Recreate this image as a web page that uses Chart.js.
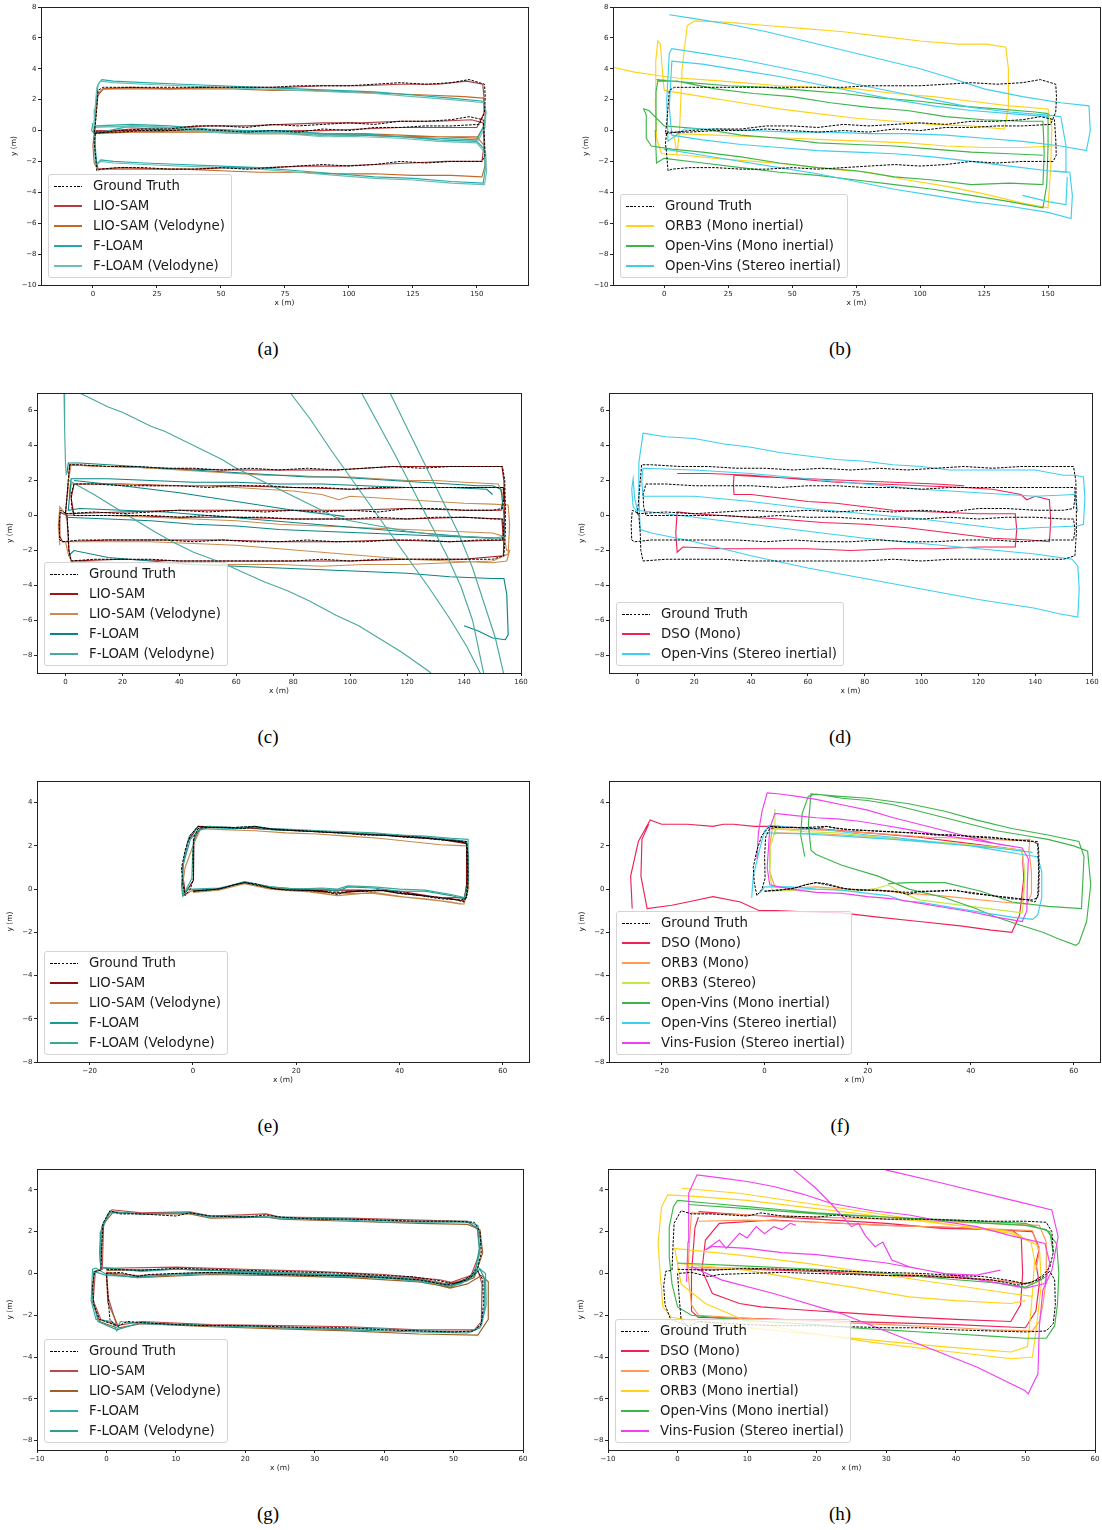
<!DOCTYPE html>
<html>
<head>
<meta charset="utf-8">
<script src="https://cdn.jsdelivr.net/npm/chart.js@4.4.1/dist/chart.umd.min.js"></script>
<style>
body{margin:0;background:#fff;width:1102px;height:1530px;position:relative;overflow:hidden;font-family:"DejaVu Sans",sans-serif}
canvas{position:absolute}
.lg{position:absolute;border:1px solid #d4d4d4;border-radius:3px;background:rgba(255,255,255,0.8);padding:1px 6px 1px 5px;font-size:13.3px;color:#1a1a1a;z-index:2}
.lg div{height:20px;line-height:20px;white-space:nowrap;display:flex;align-items:center}
.lg i{display:block;flex:0 0 28px;width:28px;height:2px;margin-right:11px}
.cap{position:absolute;font-family:"Liberation Serif",serif;font-size:19px;color:#000;transform:translate(-50%,-50%)}
</style>
</head>
<body>
<script>
// ---- ticks ----
const xTicksAB = [0, 25, 50, 75, 100, 125, 150];
const yTicksAB = [-10, -8, -6, -4, -2, 0, 2, 4, 6, 8];
const xTicksCD = [0, 20, 40, 60, 80, 100, 120, 140, 160];
const yTicksCD = [-8, -6, -4, -2, 0, 2, 4, 6];
const xTicksEF = [-20, 0, 20, 40, 60];
const yTicksEF = [-8, -6, -4, -2, 0, 2, 4];
const xTicksGH = [-10, 0, 10, 20, 30, 40, 50, 60];
const yTicksGH = [-8, -6, -4, -2, 0, 2, 4];

// ---- (a) / (b) ----
const gtAB = [[0.5,-0.2],[10,0.0],[20,0.1],[30,0.1],[40,0.3],[50,0.3],[60,0.2],[70,0.4],[80,0.3],[90,0.4],[100,0.5],[110,0.4],[120,0.6],[130,0.6],[140,0.7],[147,0.9],[152.5,0.7],[153,-0.5],[153.2,-1.6],[152,-2.0],[140,-2.0],[130,-2.1],[120,-2.0],[110,-2.2],[100,-2.3],[90,-2.2],[80,-2.3],[70,-2.4],[60,-2.5],[50,-2.4],[40,-2.5],[30,-2.5],[20,-2.4],[10,-2.4],[3,-2.5],[1.5,-2.6],[1,-1.6],[0.5,-0.8],[1,-0.1],[10,-0.1],[20,0.0],[30,0.0],[40,0.1],[50,0.0],[60,-0.1],[70,0.0],[80,-0.1],[90,0.1],[100,0.0],[110,0.2],[120,0.2],[130,0.3],[140,0.3],[151,0.4],[153,1.2],[153.3,2.2],[153,3.0],[147,3.3],[140,3.1],[130,3.0],[120,3.1],[110,3.0],[100,2.9],[90,2.9],[80,2.9],[70,2.8],[60,2.8],[50,2.8],[40,2.8],[30,2.8],[20,2.8],[10,2.8],[4,2.8],[2,2.6],[1.5,1.5],[1,0.5],[0.5,-0.2]];
const lioA = [[0.3,-0.1],[15,0.1],[30,0.2],[45,0.3],[60,0.3],[75,0.4],[90,0.5],[105,0.5],[120,0.6],[135,0.6],[148,0.7],[152.5,0.5],[152.8,-1.0],[152,-2.0],[138,-2.0],[124,-2.1],[110,-2.2],[96,-2.3],[82,-2.3],[68,-2.4],[54,-2.4],[40,-2.5],[26,-2.5],[12,-2.4],[2,-2.5],[0.8,-1.5],[0.3,-0.5],[1,0.0],[15,0.0],[30,0.1],[45,0.0],[60,-0.1],[75,0.0],[90,0.0],[105,0.1],[120,0.2],[135,0.2],[150,0.2],[152.5,1.0],[152.8,2.2],[152.3,3.0],[146,3.2],[135,3.0],[120,3.0],[105,2.9],[90,2.9],[75,2.8],[60,2.8],[45,2.8],[30,2.7],[15,2.8],[4,2.7],[1.5,2.2],[0.8,0.8],[0.3,-0.1]];
const lioVelA = [[0,-0.1],[15,-0.1],[30,0.0],[45,0.0],[60,-0.1],[75,-0.1],[90,-0.2],[105,-0.2],[120,-0.3],[135,-0.4],[150,-0.4],[153,-1.0],[153.3,-2.2],[152,-3.0],[140,-2.9],[125,-2.9],[110,-2.8],[95,-2.8],[80,-2.7],[65,-2.7],[50,-2.6],[35,-2.5],[20,-2.5],[8,-2.5],[2,-2.5],[0.5,-2.1],[0,-1],[0.5,-0.2],[15,-0.1],[30,-0.1],[45,-0.1],[60,-0.2],[75,-0.2],[90,-0.3],[105,-0.3],[120,-0.4],[135,-0.4],[150,-0.5],[153,0.3],[153.4,1.2],[152.5,2.1],[145,2.2],[130,2.3],[115,2.4],[100,2.5],[85,2.6],[70,2.6],[55,2.7],[40,2.7],[25,2.7],[12,2.7],[4,2.7],[2,2.4],[1.2,1.0],[0.5,-0.1]];
const flA = [[0,0.5],[-0.5,0],[0.5,-0.2],[15,0.3],[30,0.2],[45,0.0],[60,-0.1],[75,-0.1],[90,-0.3],[105,-0.3],[120,-0.4],[135,-0.6],[150,-0.7],[153,-1.2],[153.3,-2.5],[152.5,-3.4],[140,-3.3],[125,-3.1],[110,-3.0],[95,-2.8],[80,-2.6],[65,-2.4],[50,-2.3],[35,-2.2],[20,-2.1],[8,-2.0],[3,-1.9],[1.5,-2.2],[1,-1.2],[0.8,0.3],[15,0.4],[30,0.3],[45,0.1],[60,0.0],[75,0.0],[90,-0.2],[105,-0.2],[120,-0.4],[135,-0.5],[150,-0.6],[153,0.4],[153.5,1.2],[152.5,1.9],[140,2.1],[125,2.3],[110,2.5],[95,2.6],[80,2.7],[65,2.8],[50,2.9],[35,3.0],[20,3.1],[8,3.2],[3.5,3.3],[2,3.0],[1,1.5],[0.5,0.5]];
const flVelA = [[0.5,0.3],[15,0.2],[30,0.1],[45,-0.1],[60,-0.2],[75,-0.2],[90,-0.4],[105,-0.4],[120,-0.5],[135,-0.7],[150,-0.8],[153.5,-1.5],[153.8,-2.7],[153,-3.5],[140,-3.4],[125,-3.2],[110,-3.1],[95,-2.9],[80,-2.7],[65,-2.5],[50,-2.4],[35,-2.3],[20,-2.2],[8,-2.1],[3,-2.0],[1,-2.3],[0.5,-1.0],[1,0.2],[15,0.3],[30,0.2],[45,0.0],[60,-0.1],[75,-0.1],[90,-0.3],[105,-0.4],[120,-0.5],[135,-0.7],[150,-0.8],[153.2,0.2],[153.6,1.2],[153,1.8],[140,2.0],[125,2.2],[110,2.4],[95,2.5],[80,2.6],[65,2.7],[50,2.8],[35,2.9],[20,3.0],[8,3.1],[3,3.2],[1.5,2.8],[0.8,1.4],[0.5,0.3]];
const orb3MiB = [[-20,4.1],[-12,3.8],[-4,3.6],[5,3.4],[15,3.3],[30,3.1],[45,2.9],[60,2.8],[75,2.7],[90,2.4],[105,2.2],[120,1.9],[135,1.6],[150,1.4],[151.5,0.2],[151,-2.5],[150,-5.0],[140,-4.7],[125,-4.1],[110,-3.6],[95,-3.2],[80,-2.7],[65,-2.5],[50,-2.2],[35,-2.0],[20,-1.8],[8,-1.6],[-1,-1.5],[-3,-0.5],[-3.5,2],[-3.3,4.5],[-2.5,5.8],[-1.5,5.6],[-0.5,3.5],[0,2.6],[15,2.2],[30,1.8],[45,1.4],[60,1.1],[75,0.8],[90,0.6],[105,0.4],[120,0.3],[133,0.1],[134.5,1.5],[134.5,4],[133.5,5.4],[126,5.6],[115,5.6],[100,5.8],[85,6.1],[70,6.4],[55,6.6],[40,6.8],[25,7.0],[12,7.1],[9,6.8],[7,4],[6,0],[5,-1.5],[4,-0.5],[5,-0.2],[20,-0.3],[35,-0.4],[50,-0.5],[65,-0.6],[80,-0.7],[95,-0.8],[110,-1.0],[125,-1.1],[140,-1.1],[152,-1.0]];
const ovMonoB = [[-3,3.3],[10,3.1],[25,2.9],[40,2.8],[55,2.6],[70,2.4],[85,2.1],[100,1.9],[115,1.6],[130,1.4],[145,1.2],[150,1.1],[150,-1],[149.5,-3.5],[148,-5.0],[135,-4.6],[120,-4.2],[105,-3.8],[90,-3.5],[75,-3.2],[60,-2.9],[45,-2.7],[30,-2.4],[15,-2.1],[0,-1.8],[-3,-2.1],[-3.5,0],[-3.2,2.5],[-2.5,3.2],[5,3.2],[20,2.7],[35,2.4],[50,2.2],[65,1.8],[80,1.5],[95,1.3],[110,0.9],[125,0.7],[140,0.6],[148,0.6],[148.5,-1.5],[148,-3.5],[135,-3.4],[120,-3.5],[105,-3.2],[90,-3.0],[75,-2.6],[60,-2.4],[45,-2.1],[30,-1.7],[15,-1.4],[3,-1.2],[-5,-1.0],[-7,-0.5],[-7,1.0],[-8,1.4],[-6,1.3],[0,0.3],[15,0.1],[30,-0.3],[45,-0.5],[60,-0.8],[75,-0.9],[90,-1.0],[105,-1.2],[120,-1.4],[135,-1.5],[148,-1.6]];
const ovStereoB = [[2,7.5],[10,7.3],[25,6.9],[40,6.4],[55,5.8],[70,5.2],[85,4.6],[100,4.0],[112,3.4],[125,2.7],[140,2.2],[155,1.8],[166,1.6],[166.5,0],[165,-1.3],[155,-1.0],[140,-0.7],[125,-0.5],[110,-0.3],[95,-0.2],[80,-0.2],[65,-0.1],[50,-0.1],[35,0.0],[20,0.1],[8,0.1],[3,-0.5],[1.5,-0.7],[1,2],[2,5],[3,5.3],[15,5.0],[30,4.6],[45,4.1],[60,3.6],[75,3.0],[90,2.5],[105,2.0],[120,1.5],[135,1.2],[150,1.0],[155,0.9],[157,-1],[157,-2.7],[150,-2.6],[135,-2.3],[120,-2.0],[105,-1.7],[90,-1.5],[75,-1.4],[60,-1.3],[45,-1.1],[30,-0.9],[15,-0.6],[3,-0.3],[2,1.5],[3,4.5],[15,4.3],[30,3.9],[45,3.5],[60,3.0],[75,2.5],[90,2.0],[105,1.6],[120,1.3],[135,1.1],[150,0.9],null,[0,-1.2],[15,-1.6],[30,-2.0],[45,-2.4],[60,-2.8],[75,-3.3],[90,-3.8],[105,-4.2],[120,-4.6],[135,-4.9],[150,-5.3],[159,-5.7],[159.5,-4.2],[158.5,-2.7],[152,-2.6],null,[140,-4.2],[150,-4.6],[157,-4.8],[157.5,-3.0]];

// ---- (c) / (d) ----
const gtCD = [[0,0.1],[10,0.2],[20,0.1],[30,0.2],[40,0.3],[50,0.2],[60,0.3],[70,0.2],[80,0.3],[90,0.2],[100,0.3],[110,0.2],[120,0.4],[130,0.4],[140,0.3],[150,0.3],[153.5,0.4],[154,1.0],[154,1.6],[150,1.6],[140,1.6],[130,1.6],[120,1.6],[110,1.6],[100,1.5],[90,1.6],[80,1.6],[70,1.7],[60,1.7],[50,1.6],[40,1.7],[30,1.7],[20,1.7],[10,1.8],[3,1.8],[2,1.2],[2.2,0.5],[3,0.0],[10,0.0],[20,0.0],[30,0.0],[40,-0.1],[50,0.0],[60,-0.1],[70,-0.1],[80,-0.2],[90,-0.2],[100,-0.2],[110,-0.1],[120,-0.2],[130,-0.1],[140,-0.1],[150,-0.2],[153.5,-0.2],[154,-0.8],[153.5,-1.4],[145,-1.4],[135,-1.5],[125,-1.4],[115,-1.4],[105,-1.5],[95,-1.5],[85,-1.4],[75,-1.5],[65,-1.5],[55,-1.4],[45,-1.5],[35,-1.4],[25,-1.4],[15,-1.4],[5,-1.4],[-1,-1.5],[-2,-1.4],[-2.2,-0.5],[-1.8,0.3],[-0.5,0.2],[0.5,0.0],[1,-1],[1.2,-2.0],[2,-2.6],[10,-2.5],[20,-2.5],[30,-2.5],[40,-2.6],[50,-2.6],[60,-2.6],[70,-2.6],[80,-2.6],[90,-2.5],[100,-2.6],[110,-2.5],[120,-2.5],[130,-2.5],[140,-2.5],[150,-2.5],[154,-2.3],[154.5,-1],[154.5,0.5],[154.3,2.0],[153.5,2.8],[145,2.8],[135,2.8],[125,2.7],[115,2.8],[105,2.7],[95,2.6],[85,2.7],[75,2.6],[65,2.7],[55,2.6],[45,2.7],[35,2.7],[25,2.8],[15,2.8],[5,2.9],[1.5,2.9],[1,2.0],[0.5,1.0],[0,0.1]];
const lioC = [[0,0.1],[20,0.2],[40,0.3],[60,0.3],[80,0.3],[100,0.3],[120,0.4],[140,0.3],[153,0.3],[153.8,1.0],[153.8,1.6],[140,1.6],[120,1.6],[100,1.5],[80,1.6],[60,1.7],[40,1.7],[20,1.8],[3,1.8],[2,1.0],[3,0.0],[20,0.0],[40,-0.1],[60,-0.1],[80,-0.2],[100,-0.2],[120,-0.2],[140,-0.1],[153.3,-0.2],[153.8,-1.4],[135,-1.5],[115,-1.4],[95,-1.5],[75,-1.5],[55,-1.4],[35,-1.4],[15,-1.4],[-1,-1.5],[-2,-1.2],[-2,0.2],[0.5,0.0],[1.2,-2.0],[2,-2.6],[20,-2.5],[40,-2.6],[60,-2.6],[80,-2.6],[100,-2.6],[120,-2.5],[140,-2.5],[153.8,-2.3],[154.3,0.5],[154,2.0],[153.3,2.8],[135,2.8],[115,2.8],[95,2.6],[75,2.6],[55,2.6],[35,2.7],[15,2.8],[1.5,2.9],[0.5,1.0],[0,0.1]];
const lioVelC = [[-2,-1.7],[-2.5,-0.6],[-2,0.5],[-1,0.3],[0,0.0],[15,0.0],[30,-0.1],[45,-0.2],[60,-0.3],[75,-0.5],[90,-0.6],[105,-0.7],[120,-0.8],[135,-0.9],[150,-1.0],[154,-1.2],[155,-2.0],[156,-2.0],[155,-2.6],[150,-2.7],[135,-2.6],[120,-2.5],[105,-2.3],[90,-2.1],[75,-1.9],[60,-1.7],[45,-1.6],[30,-1.5],[15,-1.5],[0,-1.5],[1,-2.2],[2,-2.6],[15,-2.7],[30,-2.7],[45,-2.8],[60,-2.8],[75,-2.8],[90,-2.9],[105,-2.8],[120,-2.8],[135,-2.7],[150,-2.6],[155.5,-2.2],[156,-0.5],[155.5,0.6],[150,0.65],[140,0.7],[130,0.8],[120,0.9],[110,1.0],[100,1.1],[96,0.9],[90,1.2],[80,1.4],[70,1.5],[60,1.6],[50,1.7],[40,1.7],[30,1.7],[20,1.8],[10,1.8],[2,1.8],[1.5,1.0],[1,2.0],[2,2.9],[10,2.8],[20,2.8],[30,2.7],[40,2.6],[50,2.5],[60,2.4],[70,2.3],[80,2.3],[90,2.2],[100,2.2],[110,2.1],[120,2.0],[130,2.0],[140,1.9],[152,1.8],[154,1.0]];
const flC = [[0.5,2.4],[1,3.0],[5,3.0],[15,2.9],[25,2.8],[35,2.7],[45,2.6],[55,2.5],[65,2.4],[75,2.3],[85,2.2],[95,2.2],[105,2.1],[115,2.0],[125,1.9],[135,1.8],[145,1.7],[150,1.7],[153,1.5],[154,0],[154,-1.2],[153,-1.3],[140,-1.2],[125,-1.0],[110,-0.8],[95,-0.6],[80,-0.4],[65,-0.2],[50,0.0],[35,0.2],[20,0.3],[5,0.4],[1,0.3],[1.5,1.2],[2,2.1],[15,2.1],[30,2.0],[45,1.9],[60,1.9],[75,1.8],[90,1.8],[105,1.7],[120,1.6],[135,1.6],[148,1.5],[150,1.2],null,[3,2.0],[20,1.7],[40,1.3],[60,0.8],[80,0.3],[98,-0.05],null,[0,-0.1],[15,-0.2],[30,-0.3],[45,-0.5],[60,-0.6],[75,-0.8],[90,-0.9],[105,-1.0],[120,-1.1],[135,-1.2],[150,-1.3],null,[1,-2.3],[3,-2.0],[15,-2.4],[30,-2.6],[45,-2.8],[60,-2.9],[75,-3.0],[90,-3.1],[105,-3.2],[120,-3.3],[135,-3.5],[150,-3.6],[154,-3.6],[155,-4.5],[155.5,-6.8],[154.5,-7.1],[150,-7.0],[145,-6.6],[140,-6.3]];
const flVelC = [[-0.5,7],[-0.3,5],[0,3],[0.3,2.3],null,[5,7],[10,6.6],[15,6.2],[20,5.9],[25,5.5],[30,5.1],[35,4.8],[40,4.4],[45,4.0],[50,3.6],[55,3.2],[60,2.7],[65,2.3],[70,1.9],[75,1.5],[80,1.1],[85,0.7],[90,0.3],[95,-0.1],[100,-0.3],[110,-0.6],[120,-0.9],[130,-1.1],[140,-1.2],[150,-1.3],[154,-1.2],null,[1.2,2.0],[10,1.2],[20,0.2],[30,-0.8],[37.5,-1.5],[45,-2.1],[55,-2.7],[61.7,-3.2],[70,-3.8],[78,-4.3],[85.9,-4.9],[95,-5.7],[103,-6.3],[110,-7.0],[118,-7.8],[127.6,-8.9],[129,-9.1],null,[79,7],[86,5.5],[93,3.8],[100,2.2],[107,0.6],[114,-1.0],[121,-2.6],[128,-4.2],[135,-5.9],[141,-7.5],[146,-9.1],null,[104,7],[110,5.2],[116,3.4],[122,1.5],[128,-0.4],[134,-2.3],[139,-4.1],[143,-6.0],[147,-9.1],null,[114,7],[120,5.0],[126,3.0],[132,1.0],[138,-1.0],[143,-3.0],[147,-5.0],[151,-7.0],[154,-9.1]];
const dsoD = [[14,2.4],[25,2.4],[40,2.3],[55,2.1],[70,1.9],[85,1.8],[100,1.7],[115,1.6],[125,1.5],[135,1.2],[137,0.9],[140,1.1],[145,0.9],[145.5,-0.3],[145,-1.5],[138,-1.4],[125,-1.3],[110,-1.0],[95,-0.7],[80,-0.5],[65,-0.4],[50,-0.2],[40,-0.1],[30,0.0],[20,0.1],[14,0.2],[13.5,-1.0],[14,-2.1],[16,-1.8],[30,-1.9],[45,-1.9],[60,-1.9],[75,-2.0],[90,-1.9],[105,-1.9],[120,-1.8],[133,-1.8],[133.5,-0.8],[133,0.1],[120,0.1],[105,0.2],[90,0.3],[80,0.5],[70,0.7],[60,0.8],[50,1.0],[40,1.2],[34,1.2],[33.8,1.8],[34,2.3],[45,2.2],[60,2.1],[75,2.0],[90,1.9],[105,1.8],[115,1.7]];
const ovStereoD = [[0,0.2],[-1.5,0.5],[-2,1.5],[-1.5,2.1],[-1,1],[0,0.3],[20,-0.1],[40,-0.5],[60,-0.9],[80,-1.3],[100,-1.6],[120,-1.9],[140,-2.2],[153,-2.5],[155,-2.9],[155.5,-4.2],[155,-5.8],[148,-5.6],[140,-5.3],[120,-4.8],[100,-4.2],[80,-3.6],[60,-3.0],[40,-2.3],[20,-1.5],[5,-1.0],[1,-0.8],[0.5,1],[0.5,3],[2,4.7],[10,4.5],[20,4.4],[30,4.1],[40,3.9],[50,3.6],[60,3.4],[70,3.2],[80,3.1],[90,2.9],[100,2.8],[110,2.6],[120,2.6],[130,2.6],[140,2.6],[150,2.3],[154,2.3],[157,2.2],[157.5,1],[157,-0.5],[155,-0.6],[140,-0.7],[130,-0.8],[120,-0.6],[100,-0.2],[80,0.1],[60,0.4],[40,0.8],[20,1.1],[2,1.1],[1.5,2.0],[2,2.7],[20,2.6],[40,2.4],[60,2.1],[80,1.8],[100,1.5],[120,1.3],[140,1.1],[154,1.2],[155,0.2]];

// ---- (e) / (f) ----
const gtEF = [[0,-0.1],[3,-0.05],[6,0.05],[8,0.2],[10,0.3],[12,0.25],[15,0.05],[18,-0.05],[22,-0.05],[25,-0.1],[28,-0.25],[30,-0.1],[34,-0.1],[37,-0.05],[40,-0.2],[44,-0.3],[48,-0.4],[51,-0.5],[52.5,-0.6],[53.2,-0.2],[53.3,0.8],[53.2,1.8],[53,2.2],[49,2.25],[45,2.35],[41,2.4],[37,2.5],[33,2.5],[29,2.6],[25,2.65],[21,2.7],[17,2.75],[14,2.8],[12,2.9],[10,2.8],[6,2.85],[2,2.85],[1,2.8],[0.2,2.4],[0,1.5],[0.1,0.5],[-0.5,0],[-1.5,-0.3],[-2,0.3],[-2.2,1.0],[-1.5,1.8],[-0.5,2.5],[1,2.9],[4,2.85],[8,2.85],[12,2.9],[16,2.75],[20,2.7],[24,2.65],[28,2.6],[32,2.55],[36,2.5],[40,2.45],[44,2.4],[48,2.3],[52,2.2],[53,2.1],[53.2,0.8],[53,-0.4],[52,-0.5],[48,-0.45],[44,-0.3],[40,-0.15],[36,-0.05],[32,-0.1],[28,-0.15],[24,-0.1],[20,-0.05],[16,0.0],[12,0.2],[10,0.3],[8,0.2],[5,0.0],[2,-0.05],[0,-0.1]];
const lioE = [[0,-0.05],[5,0.0],[10,0.3],[15,0.05],[20,-0.05],[25,-0.1],[28,-0.2],[32,-0.1],[36,-0.05],[40,-0.2],[45,-0.3],[50,-0.45],[52.5,-0.55],[53.2,0.5],[53,2.15],[48,2.3],[42,2.4],[36,2.5],[30,2.6],[24,2.65],[18,2.75],[12,2.85],[6,2.85],[1.5,2.85],[0.2,2.3],[0.1,0.4],[-1.5,-0.2],[-2.1,0.9],[-1,2.2],[1,2.9],[8,2.85],[16,2.75],[24,2.65],[32,2.55],[40,2.45],[48,2.3],[53,2.1],[53,-0.4],[48,-0.4],[40,-0.1],[32,-0.05],[24,-0.05],[16,0.05],[10,0.3],[5,0.0],[0,-0.05]];
const lioVelE = [[0,-0.15],[5,-0.05],[10,0.25],[15,0.0],[20,-0.1],[25,-0.15],[30,-0.2],[35,-0.2],[40,-0.35],[45,-0.45],[50,-0.6],[52.5,-0.7],[53.3,0.0],[53.4,1.5],[53,2.0],[48,2.05],[42,2.2],[36,2.35],[30,2.45],[24,2.55],[18,2.6],[12,2.7],[6,2.75],[1.5,2.8],[0,2.0],[-1.5,1.0],[-2,0.2],[-1.8,-0.3],[0,-0.05],[5,0.0],[10,0.3],[15,0.05],[20,-0.05],[28,-0.3],[35,-0.15],[42,-0.4],[48,-0.55],[52,-0.7]];
const flE = [[0,-0.1],[5,0.0],[10,0.35],[15,0.1],[20,0.0],[25,0.0],[28,-0.1],[30,0.1],[35,0.05],[40,-0.1],[45,-0.1],[50,-0.3],[52.5,-0.45],[53.2,0.2],[53.3,1.5],[53,2.2],[50,2.3],[45,2.4],[40,2.5],[35,2.55],[30,2.6],[25,2.65],[20,2.7],[15,2.75],[12,2.85],[8,2.8],[3,2.85],[1,2.7],[-0.5,2.3],[-1.8,1.2],[-2.2,0.2],[-2,-0.3],[-1,0.0],[0,0.0]];
const flVelE = [[0,0.0],[5,0.05],[10,0.3],[15,0.1],[20,0.0],[25,0.05],[28,0.0],[30,0.15],[35,0.1],[40,0.0],[45,-0.05],[50,-0.25],[52.8,-0.4],[53.4,0.5],[53.3,2.3],[50,2.35],[45,2.45],[40,2.5],[35,2.6],[30,2.65],[25,2.7],[20,2.75],[15,2.8],[12,2.9],[8,2.85],[3,2.9],[1,2.8],[0,2.0],[-0.2,0.5],[-1.5,-0.1],[-1.9,-0.3],[-2,0.5],[-1.8,1.3],[-0.8,2.4],[0.8,2.85]];
const dsoF = [[-25.7,-0.9],[-26,0.6],[-24.5,2.2],[-22.2,3.2],[-20,3.0],[-15,3.0],[-10,2.9],[-8,3.0],[-6,3.0],[-2,2.9],[2,2.9],[10,2.8],[20,2.6],[30,2.4],[40,2.1],[50,1.8],[50.3,0.5],[49.5,-1.2],[48,-2.0],[44,-1.9],[38,-1.7],[30,-1.5],[22,-1.3],[15,-1.1],[8,-1.05],[2,-1.0],[-1,-1.0],[-4.7,-0.6],[-10,-0.35],[-14,-0.55],[-18,-0.75],[-22.8,-0.9],[-24,0.6],[-23.8,2.3],[-22.5,3.0]];
const orb3MonoF = [[1.5,2.8],[8,2.75],[14,2.7],[20,2.6],[26,2.5],[32,2.4],[38,2.35],[44,2.3],[48,2.25],[51.5,2.3],[51.3,1.8],[51.8,0.8],[51.8,-0.2],[51,-0.7],[46,-0.6],[40,-0.45],[34,-0.3],[28,-0.2],[22,-0.05],[16,0.0],[10,0.1],[5,0.05],[2,0.1],[1,0.8],[1,2.0],[1.5,2.8],null,[2,2.6],[12,2.55],[22,2.4],[32,2.2],[42,2.0],[50,1.8],[50.5,0.5],[50,-0.6]];
const orb3StereoF = [[2,3.7],[2,2.5],[2.2,2.8],[8,2.65],[14,2.6],[20,2.45],[26,2.3],[32,2.2],[38,2.1],[44,1.95],[50,1.8],[50.5,0.8],[50.3,-0.4],[50,-1.1],[45,-0.95],[40,-0.8],[35,-0.65],[30,-0.5],[26,-0.1],[24,0.2],[22,0.05],[18,-0.1],[12,0.0],[6,-0.05],[1.5,-0.1],[1,0.8],[1.2,2.0],[2,2.7]];
const ovMonoF = [[7.8,1.5],[7,2.5],[7.3,3.5],[8.5,4.3],[10,4.4],[15,4.2],[20,4.1],[25,3.9],[30,3.6],[35,3.3],[40,3.0],[45,2.7],[50,2.5],[55,2.3],[60,2.0],[62.7,1.75],[63.3,0.2],[62.5,-1.5],[61,-2.5],[60.4,-2.6],[57,-2.3],[54,-2.0],[50,-1.7],[45,-1.3],[41,-0.9],[35,-0.4],[28,0.0],[22,0.6],[15,1.1],[10,1.6],[9,1.8],[8.5,3],[9,4.4],[14,4.3],[20,4.2],[28,3.95],[35,3.6],[41,3.2],[48,2.8],[55,2.5],[61,2.2],[62,1.5],[61.5,-0.9],[55,-0.8],[48,-0.6],[42,-0.1],[35,0.3],[28,0.3],[24,0.25]];
const ovStereoF = [[-2.5,-0.4],[-2.2,0.6],[-1,1.8],[0,2.7],[1,2.95],[6,2.85],[10,2.8],[15,2.65],[20,2.5],[25,2.4],[30,2.25],[35,2.1],[40,2.0],[45,1.8],[50,1.6],[53,1.5],[53.8,0.8],[53.8,-0.4],[53,-1.2],[52,-1.4],[48,-1.3],[44,-1.15],[40,-1.0],[35,-0.8],[30,-0.6],[27,-0.55],[24,-0.3],[20,-0.2],[15,-0.05],[10,0.0],[5,0.1],[0,0.1],[-1,-0.2],null,[0,2.6],[8,2.55],[15,2.45],[25,2.3],[35,2.1],[45,1.9],[52,1.7]];
const vfF = [[-1.5,1.4],[-1.2,2.6],[-0.5,3.6],[0.5,4.45],[3,4.4],[6,4.3],[10,4.15],[15,3.9],[20,3.65],[25,3.3],[30,3.0],[35,2.7],[40,2.4],[45,2.1],[50,1.9],[51.2,1.4],[51,0.3],[50.9,-1.0],[50,-1.5],[45,-1.3],[40,-1.05],[35,-0.85],[30,-0.65],[25,-0.45],[20,-0.35],[15,-0.2],[10,-0.15],[5,0.0],[1,0.2],[0.5,1.0],[1,2.8],[2,3.5],[6,3.4],[10,3.3],[14,3.25],[18,3.15],[22,3.0],[28,2.75],[34,2.5],[40,2.3],[46,2.05],[50,1.9]];

// ---- (g) / (h) ----
const gtGH = [[0,0.2],[5,0.15],[10,0.25],[15,0.2],[20,0.15],[25,0.1],[30,0.05],[35,0.0],[40,-0.1],[44,-0.15],[48,-0.35],[50,-0.5],[52,-0.3],[53.5,0.1],[54.2,-0.3],[54.3,-1.5],[54,-2.4],[53,-2.75],[50,-2.8],[45,-2.75],[40,-2.7],[35,-2.6],[30,-2.6],[25,-2.55],[20,-2.5],[15,-2.5],[10,-2.45],[5,-2.35],[3,-2.3],[1.5,-2.55],[0.5,-2.2],[0.2,-1.0],[0,0.0],[2,0.05],[4.5,-0.15],[6,-0.05],[10,0.0],[15,0.05],[20,0.0],[25,-0.05],[30,-0.1],[35,-0.1],[40,-0.2],[45,-0.3],[49,-0.55],[51,-0.4],[52.5,-0.1],[53.5,0.3],[54,1.0],[53.8,2.0],[53,2.45],[50,2.5],[45,2.5],[40,2.55],[35,2.6],[30,2.6],[25,2.7],[23,2.8],[20,2.7],[15,2.75],[12,2.9],[10,2.75],[5,2.85],[2,2.85],[0.5,3.0],[-0.5,2.4],[-0.7,1.0],[-0.8,0.15],[-1.7,0.1],[-2,-0.6],[-1.8,-1.5],[-1,-2.2],[1.5,-2.5]];
const lioG = [[0,0.25],[10,0.3],[20,0.2],[30,0.1],[40,-0.05],[48,-0.3],[50,-0.45],[52,-0.25],[53.5,0.15],[54.1,-0.5],[54,-2.3],[53,-2.7],[45,-2.7],[35,-2.55],[25,-2.5],[15,-2.45],[5,-2.3],[1.5,-2.5],[0.3,-1.2],[0,0.05],[4.5,-0.1],[15,0.05],[25,-0.05],[35,-0.05],[45,-0.25],[49,-0.5],[52.5,-0.1],[53.8,1.0],[53.5,2.1],[52,2.5],[45,2.55],[35,2.65],[25,2.7],[23,2.85],[15,2.75],[12,2.95],[5,2.9],[0.8,3.05],[-0.4,2.4],[-0.6,0.2],[-1.6,0.1],[-1.9,-1.3],[-0.8,-2.2],[1.5,-2.45]];
const lioVelG = [[0,0.15],[10,0.2],[20,0.1],[30,-0.05],[40,-0.2],[45,-0.35],[49.5,-0.7],[52,-0.5],[54,-0.1],[55,-0.4],[55,-2.2],[53.5,-2.95],[45,-2.9],[35,-2.75],[25,-2.65],[15,-2.55],[5,-2.4],[1.8,-2.6],[0.2,-1.4],[0,0.0],[4.5,-0.2],[15,-0.05],[25,-0.1],[35,-0.2],[45,-0.4],[49.5,-0.65],[53,-0.2],[54.2,1.0],[53.8,2.1],[52,2.35],[45,2.4],[35,2.5],[25,2.6],[23,2.7],[15,2.65],[12,2.85],[5,2.85],[1,2.95],[-0.6,2.3],[-0.8,0.2],[-1.8,0.05],[-2.1,-1.3],[-1,-2.3],[1.5,-2.6]];
const flG = [[-0.8,0.3],[5,0.1],[10,0.2],[20,0.1],[30,0.0],[40,-0.15],[45,-0.3],[49,-0.6],[51,-0.5],[53,-0.1],[53.5,0.3],[54.6,0.0],[54.7,-1.5],[54,-2.5],[52.5,-2.8],[45,-2.75],[40,-2.65],[35,-2.65],[30,-2.6],[25,-2.6],[20,-2.5],[15,-2.5],[10,-2.45],[5,-2.4],[2,-2.3],[1.5,-2.75],[0.8,-2.3],[-1.5,-2.2],[-2.2,-1.3],[-2,0.2],[-1.5,0.25],[0,-0.05],[4.5,-0.2],[10,0.0],[20,0.05],[30,-0.05],[40,-0.2],[48,-0.5],[50,-0.6],[52.5,-0.2],[53.5,0.5],[53.9,1.5],[53.5,2.3],[52,2.5],[45,2.5],[40,2.45],[35,2.55],[30,2.6],[25,2.65],[20,2.75],[15,2.7],[12,2.9],[5,2.85],[2,2.9],[0.3,2.9],[-0.7,2.2],[-1,1.0],[-0.8,0.3]];
const flVelG = [[-0.5,0.25],[5,0.15],[10,0.2],[20,0.1],[30,-0.05],[40,-0.2],[46,-0.35],[49.5,-0.55],[52,-0.35],[53.8,0.2],[54.4,-0.2],[54.5,-1.6],[53.8,-2.6],[52,-2.85],[45,-2.8],[35,-2.7],[25,-2.6],[15,-2.5],[5,-2.35],[1.5,-2.7],[-1.2,-2.3],[-2,-1.2],[-1.8,0.1],[0,-0.1],[4.5,-0.15],[15,0.0],[25,-0.05],[35,-0.15],[45,-0.3],[49.5,-0.6],[53,-0.1],[53.7,1.2],[53.4,2.2],[52,2.45],[45,2.45],[35,2.6],[25,2.7],[15,2.75],[12,2.9],[5,2.85],[0.5,2.95],[-0.8,2.0],[-0.9,0.5]];
const dsoH = [[3,2.96],[10,2.8],[20,2.6],[30,2.4],[38,2.16],[48,2.08],[49.4,1.76],[49.6,0],[49.3,-1.5],[47.9,-2.3],[40,-2.2],[33,-2.08],[25,-1.9],[18.6,-1.76],[12,-1.6],[8.9,-1.44],[5,-0.96],[3.5,0.16],[4,1.6],[6,2.4],[13.8,2.56],[20,2.45],[30,2.3],[40,2.2],[51,2.0],[52,1.2],[51.5,0.5],[52,-0.5],[51.5,-1.8],[50,-2.6],[40,-2.45],[30,-2.35],[20,-2.25],[10,-2.15],[3,-2.1],[2,-1.8],[2,0],[2.5,2.2],[3,2.7],null,[2.5,0.2],[10,0.2],[20,0.1],[30,-0.1],[40,-0.2],[48,-0.4],[50,-0.5]];
const orb3MonoH = [[2,2.9],[10,2.8],[20,2.7],[30,2.6],[40,2.45],[48,2.35],[52,2.3],[53,1.5],[53,-0.3],[52.5,-1.5],[52,-2.3],[51,-2.75],[45,-2.7],[40,-2.6],[30,-2.45],[20,-2.3],[10,-2.15],[3,-2.0],[2,-1.5],[1.5,0.0],[1.7,1.5],[2,2.9],null,[3,2.5],[10,2.55],[20,2.45],[30,2.3],[40,2.2],[51,2.05],[52,1.0],[51.5,0.2],null,[1.5,0.3],[10,0.25],[20,0.15],[30,0.0],[40,-0.15],[51,-0.5]];
const orb3MiH = [[0.6,4.08],[8.9,3.84],[18.6,3.36],[28.4,2.88],[38.1,2.4],[47.9,1.92],[50.8,1.5],[51.3,0.64],[51,-1.0],[50.3,-3.5],[47.9,-3.76],[38.1,-3.5],[28.4,-3.2],[18.6,-2.88],[8.9,-2.56],[3,-2.3],[-0.9,-2.1],[-2.1,-1.6],[-2.5,0],[-2.8,1.44],[-2.3,3.2],[-1.4,3.76],[2,3.7],[10,3.5],[20,3.1],[30,2.7],[40,2.3],[48,2.0],[52,1.3],[52.3,-0.5],[51.5,-2.8],[51,-4.0],[48,-4.08],[38,-3.7],[28,-3.3],[18,-2.8],[10,-2.3],[4,-1.44],[0.5,-0.5],[-0.4,1.2],[8.9,0.88],[18.6,0.48],[28.4,0.0],[38.1,-0.48],[47.9,-0.96],[51,-1.1],null,[0.1,0.48],[10,0.15],[18.6,-0.32],[26,-0.7],[33.3,-1.12],[40,-1.3],[47.9,-1.44],[50,-1.3]];
const ovMonoH = [[0,3.5],[5,3.35],[10,3.2],[15,3.05],[20,2.9],[25,2.8],[30,2.7],[35,2.6],[40,2.5],[45,2.4],[50,2.3],[53,2.1],[54.5,1.4],[54.8,0],[54.6,-1.5],[54.2,-2.5],[53,-3.1],[50,-3.1],[45,-3.0],[40,-2.9],[35,-2.8],[30,-2.7],[25,-2.6],[20,-2.45],[15,-2.35],[10,-2.25],[5,-2.1],[2,-2.0],[0,-1.6],[-0.8,-0.5],[-1.2,0.8],[-1.2,2.2],[-0.6,3.2],[0,3.5],null,[1.5,3.3],[10,3.1],[20,2.85],[30,2.7],[40,2.55],[50,2.4],[53.5,2.0],[54,1.0],null,[0,0.5],[10,0.35],[20,0.2],[30,0.0],[40,-0.3],[46,-0.45],[50,-0.65],[52,-0.35],[53.2,-0.1]];
const vfH = [[1.3,-0.4],[1.5,1.5],[1.6,3.84],[2.8,4.72],[6.4,4.56],[10,4.4],[13.8,4.16],[18,3.8],[22,3.36],[28,3.0],[33.3,2.8],[38,2.5],[43,2.24],[48,1.8],[52.8,1.44],[53.5,0.5],[52.8,-0.48],[50,-0.7],[45,-0.4],[40,-0.1],[35,0.2],[30,0.5],[25,0.7],[20,0.9],[15,1.0],[10,1.2],[5,1.3],[4,1.12],[6,1.6],[7,1.2],[8.9,1.92],[10,1.7],[11.3,2.24],[12.5,1.9],[13.8,2.24],[15,2.1],[16.2,2.4],[17,2.3],null,[16.7,4.96],[19.6,4.16],[22,3.36],[23.5,2.8],[25,2.24],[26,2.4],[27,1.8],[28.4,1.28],[29.5,1.5],[30.8,0.64],[33.3,0.32],[38.1,0.0],[43,-0.08],[46.4,0.16],null,[29.9,4.96],[38.1,4.32],[47.9,3.52],[53.8,3.04],[54.7,1.76],[53.8,0.16],[52.5,-0.8],[52,-2.56],[51.8,-4.8],[50.4,-5.76],[49.9,-5.6],[43,-4.48],[33.3,-3.2],[23.5,-1.92],[13.8,-0.96],[6.4,-0.32],[2,0.32]];

// ---- labels ----
const lidarLabels = ['Ground Truth', 'LIO-SAM', 'LIO-SAM (Velodyne)', 'F-LOAM', 'F-LOAM (Velodyne)'];
const labelsB = ['Ground Truth', 'ORB3 (Mono inertial)', 'Open-Vins (Mono inertial)', 'Open-Vins (Stereo inertial)'];
const labelsD = ['Ground Truth', 'DSO (Mono)', 'Open-Vins (Stereo inertial)'];
const labelsF = ['Ground Truth', 'DSO (Mono)', 'ORB3 (Mono)', 'ORB3 (Stereo)', 'Open-Vins (Mono inertial)', 'Open-Vins (Stereo inertial)', 'Vins-Fusion (Stereo inertial)'];
const labelsH = ['Ground Truth', 'DSO (Mono)', 'ORB3 (Mono)', 'ORB3 (Mono inertial)', 'Open-Vins (Mono inertial)', 'Vins-Fusion (Stereo inertial)'];

const panels = [
    { cap: '(a)', frame: [41, 7, 528, 285], xr: [-20.3, 170], yr: [-10, 8], xt: xTicksAB, yt: yTicksAB, labels: lidarLabels,
      series: [gtAB, lioA, lioVelA, flA, flVelA], colors: ['#000', '#b83c3c', '#c46a24', '#22aaa8', '#6cbfb6'] },
    { cap: '(b)', frame: [613, 7, 1100, 285], xr: [-20, 170.3], yr: [-10, 8], xt: xTicksAB, yt: yTicksAB, labels: labelsB,
      series: [gtAB, orb3MiB, ovMonoB, ovStereoB], colors: ['#000', '#ffd21a', '#3db54a', '#3dcff0'] },
    { cap: '(c)', frame: [37, 393, 521, 673], xr: [-10, 160], yr: [-9, 7], xt: xTicksCD, yt: yTicksCD, labels: lidarLabels,
      series: [gtCD, lioC, lioVelC, flC, flVelC], colors: ['#000', '#a31515', '#c98c4e', '#0a8585', '#4aa89e'] },
    { cap: '(d)', frame: [609, 393, 1092, 673], xr: [-10, 160], yr: [-9, 7], xt: xTicksCD, yt: yTicksCD, labels: labelsD,
      series: [gtCD, dsoD, ovStereoD], colors: ['#000', '#ee2255', '#3dcff0'] },
    { cap: '(e)', frame: [37, 781, 529, 1062], xr: [-30.2, 65.1], yr: [-8, 5], xt: xTicksEF, yt: yTicksEF, labels: lidarLabels,
      series: [gtEF, lioE, lioVelE, flE, flVelE], colors: ['#000', '#8b1010', '#c68a4c', '#179c9c', '#3aa896'] },
    { cap: '(f)', frame: [609, 781, 1100, 1062], xr: [-30.2, 65.1], yr: [-8, 5], xt: xTicksEF, yt: yTicksEF, labels: labelsF,
      series: [gtEF, dsoF, orb3MonoF, orb3StereoF, ovMonoF, ovStereoF, vfF], colors: ['#000', '#ee2255', '#ff9a55', '#c3e84a', '#3db54a', '#3dcff0', '#f040f0'] },
    { cap: '(g)', frame: [37, 1169, 523, 1450], xr: [-10, 60], yr: [-8.45, 5], xt: xTicksGH, yt: yTicksGH, labels: lidarLabels,
      series: [gtGH, lioG, lioVelG, flG, flVelG], colors: ['#000', '#c04848', '#a0602a', '#35aaaa', '#2e9e8e'] },
    { cap: '(h)', frame: [608, 1169, 1095, 1450], xr: [-10, 60], yr: [-8.45, 5], xt: xTicksGH, yt: yTicksGH, labels: labelsH,
      series: [gtGH, dsoH, orb3MonoH, orb3MiH, ovMonoH, vfH], colors: ['#000', '#ee2255', '#ff9a55', '#ffd21a', '#3db54a', '#f040f0'] }
];

const fmt = v => (v < 0 ? '\u2212' + Math.abs(v) : String(v));
const toPts = arr => arr.map(p => p ? { x: p[0], y: p[1] } : { x: null, y: null });

const framePlugin = {
    id: 'frame',
    afterDatasetsDraw(chart) {
        const a = chart.chartArea, ctx = chart.ctx;
        ctx.save();
        ctx.strokeStyle = '#222';
        ctx.lineWidth = 1;
        ctx.strokeRect(Math.round(a.left) + 0.5, Math.round(a.top) + 0.5, Math.round(a.right - a.left), Math.round(a.bottom - a.top));
        ctx.restore();
    }
};

const tickFont = { family: 'DejaVu Sans', size: 7 };
const titleFont = { family: 'DejaVu Sans', size: 7.5 };

panels.forEach(p => {
    const [fl, ft, fr, fb] = p.frame;
    const left = Math.max(fl < 560 ? 0 : 560, fl - 41);
    const width = (fl < 560 ? 552 : 1102) - left;
    const top = ft - 7;
    const height = fb - ft + 7 + 30;
    const yW = fl - left;
    const rightPad = width - (fr - left);
    const n = p.series.length;

    const cv = document.createElement('canvas');
    cv.width = width; cv.height = height;
    cv.style.left = left + 'px'; cv.style.top = top + 'px';
    document.body.appendChild(cv);

    // ground truth drawn on top, later methods above earlier ones
    const datasets = p.series.map((s, i) => ({
        label: p.labels[i],
        data: toPts(s),
        showLine: true,
        order: i === 0 ? 0 : n - i + 1,
        borderColor: p.colors[i],
        borderWidth: i === 0 ? 1 : 1.15,
        borderDash: i === 0 ? [2.6, 1.3] : [],
        pointRadius: 0,
        fill: false,
        tension: 0
    }));

    new Chart(cv.getContext('2d'), {
        type: 'scatter',
        data: { datasets },
        plugins: [framePlugin],
        options: {
            responsive: false,
            animation: false,
            devicePixelRatio: 1,
            layout: { padding: { left: 0, right: rightPad, top: 7, bottom: 0 } },
            plugins: { legend: { display: false }, tooltip: { enabled: false } },
            scales: {
                x: {
                    type: 'linear', min: p.xr[0], max: p.xr[1],
                    afterBuildTicks: s => { s.ticks = p.xt.map(v => ({ value: v })); },
                    afterFit: s => { s.height = 30; s.paddingLeft = 0; s.paddingRight = 0; },
                    ticks: { font: tickFont, color: '#222', padding: 1.5, maxRotation: 0, autoSkip: false, callback: v => fmt(v) },
                    grid: { drawOnChartArea: false, drawTicks: true, tickLength: 3, color: '#222' },
                    border: { color: '#222', width: 1 },
                    title: { display: true, text: 'x (m)', font: titleFont, color: '#222', padding: { top: 0, bottom: 7.5 } }
                },
                y: {
                    type: 'linear', min: p.yr[0], max: p.yr[1],
                    afterBuildTicks: s => { s.ticks = p.yt.map(v => ({ value: v })); },
                    afterFit: s => { s.width = yW; s.paddingTop = 0; s.paddingBottom = 0; },
                    ticks: { font: tickFont, color: '#222', padding: 1.5, autoSkip: false, callback: v => fmt(v) },
                    grid: { drawOnChartArea: false, drawTicks: true, tickLength: 3, color: '#222' },
                    border: { color: '#222', width: 1 },
                    title: { display: true, text: 'y (m)', font: titleFont, color: '#222', padding: { top: yW - 27 - 4.5, bottom: 0 } }
                }
            }
        }
    });

    // legend in the lower left corner of the axes
    const lg = document.createElement('div');
    lg.className = 'lg';
    lg.style.left = (fl + 7) + 'px';
    lg.style.bottom = (1530 - (fb - 7)) + 'px';
    p.labels.forEach((lab, i) => {
        const row = document.createElement('div');
        const sw = document.createElement('i');
        if (i === 0) {
            sw.style.height = '1px';
            sw.style.background = 'repeating-linear-gradient(to right,#000 0 2.6px,transparent 2.6px 3.9px)';
        } else {
            sw.style.backgroundColor = p.colors[i];
        }
        row.appendChild(sw);
        row.appendChild(document.createTextNode(lab));
        lg.appendChild(row);
    });
    document.body.appendChild(lg);

    const cap = document.createElement('div');
    cap.className = 'cap';
    cap.textContent = p.cap;
    cap.style.left = (fl < 560 ? 268 : 840) + 'px';
    cap.style.top = (fb + 64) + 'px';
    document.body.appendChild(cap);
});
</script>
</body>
</html>
